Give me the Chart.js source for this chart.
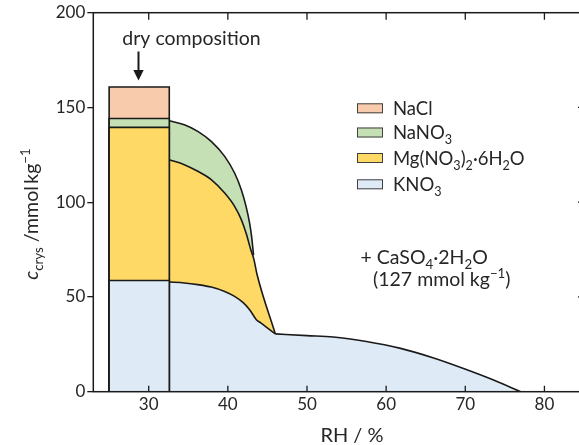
<!DOCTYPE html>
<html><head><meta charset="utf-8">
<script src="https://cdn.jsdelivr.net/npm/chart.js@4.4.1/dist/chart.umd.min.js"></script>
<style>html,body{margin:0;padding:0;overflow:hidden;background:#fff}#wrap{width:585px;height:445px}</style>
</head><body><div id="wrap"><canvas id="c" width="585" height="445"></canvas></div>
<script>
// ---- data ----
const xTicks = [30, 40, 50, 60, 70, 80];
const yTicks = [0, 50, 100, 150, 200];

// dry composition bar: RH range and cumulative tops (KNO3, Mg(NO3)2·6H2O, NaNO3, NaCl)
const dryRange = [25, 32.6];
const dryTops = [58.7, 139.5, 144.2, 160.8];

// NaNO3 upper boundary
const rhNaNO3 = [32.6, 34.5, 36.2, 37.9, 39.6, 40.85, 41.7, 42.3, 42.75, 43.0, 43.25];
const cNaNO3  = [143.0, 140.9, 137.4, 132.1, 124.2, 115.4, 106.6, 97.8, 89.0, 82.0, 72.0];

// Mg(NO3)2·6H2O upper boundary
const rhMg = [32.6, 34.5, 36.2, 37.9, 39.6, 40.85, 41.7, 42.3, 42.9, 43.3, 43.7, 46.0];
const cMg  = [122.4, 119.8, 116.3, 111.9, 104.8, 97.8, 90.8, 83.7, 74.9, 69.7, 61.7, 30.5];

// KNO3 upper boundary (up to the corner at 46 % RH, then the tail)
const rhKNO3 = [32.6, 34.5, 36.2, 37.9, 39.6, 40.85, 41.9, 42.75, 43.6, 44.2, 46.0];
const cKNO3  = [57.9, 57.4, 56.5, 55.2, 52.9, 50.3, 47.1, 43.3, 38.0, 36.2, 30.5];
const rhKNO3Tail = [46.0, 50, 53.3, 57.5, 61.7, 66.0, 70.2, 73.5, 77.0];
const cKNO3Tail  = [30.5, 29.6, 28.9, 26.5, 23.0, 17.8, 11.6, 6.3, 0];

// ---- styles ----
const COL = { NaCl: '#F8CBAD', NaNO3: '#C5E0B4', Mg: '#FFD966', KNO3: '#DEEBF7' };
const INK = '#1a1a1a';
const TXT = '#262626';
const FONT = 'Lato';

function curve(xs, ys, color, smooth, noBorder) {
  return {
    data: xs.map((x, i) => ({ x: x, y: ys[i] })),
    borderColor: noBorder ? 'rgba(0,0,0,0)' : INK, borderWidth: noBorder ? 0 : 1.6,
    backgroundColor: color, fill: 'origin',
    pointRadius: 0, pointHoverRadius: 0, tension: 0,
    cubicInterpolationMode: smooth ? 'monotone' : 'default'
  };
}
function rect(top, color) {
  return curve([dryRange[0], dryRange[0], dryRange[1], dryRange[1]], [0, top, top, 0], color, false);
}

// index 0 is drawn last (on top)
const datasets = [
  rect(dryTops[0], COL.KNO3),
  rect(dryTops[1], COL.Mg),
  rect(dryTops[2], COL.NaNO3),
  rect(dryTops[3], COL.NaCl),
  curve(rhKNO3Tail, cKNO3Tail, COL.KNO3, true),
  curve(rhKNO3, cKNO3, COL.KNO3, true),
  curve(rhKNO3.concat(rhKNO3Tail.slice(1)), cKNO3.concat(cKNO3Tail.slice(1)), COL.KNO3, false, true),
  curve(rhMg, cMg, COL.Mg, true),
  curve(rhNaNO3, cNaNO3, COL.NaNO3, true)
];

function rich(ctx, parts, x, y, size, align) {
  const fontFor = k => (k === 'i' ? 'italic ' : '') + ((k === 's' || k === 'p') ? size * 0.68 : size) + 'px ' + FONT;
  let total = 0;
  parts.forEach(([t, k]) => { ctx.font = fontFor(k); total += ctx.measureText(t).width; });
  let cx = align === 'center' ? x - total / 2 : x;
  parts.forEach(([t, k]) => {
    ctx.font = fontFor(k);
    const dy = k === 's' ? size * 0.28 : (k === 'p' ? -size * 0.4 : 0);
    ctx.fillText(t, cx, y + dy);
    cx += ctx.measureText(t).width;
  });
}

const decor = {
  id: 'decor',
  afterDraw(chart) {
    const ctx = chart.ctx, a = chart.chartArea, xs = chart.scales.x, ys = chart.scales.y;
    ctx.save();
    // frame
    ctx.strokeStyle = INK; ctx.lineWidth = 1.5;
    ctx.strokeRect(a.left, a.top, a.right - a.left, a.bottom - a.top);
    // inward ticks
    ctx.lineWidth = 1.3;
    ctx.beginPath();
    xTicks.forEach(v => {
      const px = xs.getPixelForValue(v);
      ctx.moveTo(px, a.bottom); ctx.lineTo(px, a.bottom - 6);
      ctx.moveTo(px, a.top); ctx.lineTo(px, a.top + 7);
    });
    yTicks.slice(1, -1).forEach(v => {
      const py = ys.getPixelForValue(v);
      ctx.moveTo(a.right, py); ctx.lineTo(a.right - 6, py);
    });
    ctx.stroke();

    ctx.fillStyle = TXT;
    ctx.textBaseline = 'alphabetic';
    // axis titles
    rich(ctx, [['RH / %', 'n']], 352, 441.5, 20, 'center');
    ctx.save();
    ctx.translate(37.5, 214);
    ctx.rotate(-Math.PI / 2);
    rich(ctx, [['c', 'i'], ['crys', 's'], [' /mmol\u2009kg', 'n'], ['\u22121', 'p']], 0, 0, 19.5, 'center');
    ctx.restore();

    // annotation: dry composition + arrow
    rich(ctx, [['dry composition', 'n']], 191.5, 45, 19.5, 'center');
    ctx.strokeStyle = INK; ctx.lineWidth = 2;
    ctx.beginPath(); ctx.moveTo(138.5, 51.5); ctx.lineTo(138.5, 71); ctx.stroke();
    ctx.fillStyle = INK;
    ctx.beginPath(); ctx.moveTo(133.3, 70); ctx.lineTo(143.7, 70); ctx.lineTo(138.5, 80.5); ctx.closePath(); ctx.fill();

    // legend
    const items = [
      { c: COL.NaCl, y: 108.3, t: [['NaCl', 'n']] },
      { c: COL.NaNO3, y: 132.5, t: [['NaNO', 'n'], ['3', 's']] },
      { c: COL.Mg, y: 158, t: [['Mg(NO', 'n'], ['3', 's'], [')', 'n'], ['2', 's'], ['\u00b76H', 'n'], ['2', 's'], ['O', 'n']] },
      { c: COL.KNO3, y: 184.3, t: [['KNO', 'n'], ['3', 's']] }
    ];
    items.forEach(it => {
      ctx.fillStyle = it.c;
      ctx.fillRect(357, it.y - 5, 26, 10);
      ctx.strokeStyle = '#404040'; ctx.lineWidth = 1;
      ctx.strokeRect(357.5, it.y - 4.5, 25, 9);
      ctx.fillStyle = TXT;
      rich(ctx, it.t, 393, it.y + 6.8, 18.5, 'left');
    });

    // CaSO4 note
    rich(ctx, [['+ CaSO', 'n'], ['4', 's'], ['\u00b72H', 'n'], ['2', 's'], ['O', 'n']], 360.5, 263.5, 19.5, 'left');
    rich(ctx, [['(127 mmol kg', 'n'], ['\u22121', 'p'], [')', 'n']], 373, 285.5, 19.5, 'left');
    ctx.restore();
  }
};

new Chart(document.getElementById('c'), {
  type: 'line',
  data: { datasets: datasets },
  plugins: [decor],
  options: {
    responsive: false, animation: false, events: [],
    layout: { padding: { left: 0, top: 12.7, right: 1, bottom: 0 } },
    plugins: { legend: { display: false }, tooltip: { enabled: false }, filler: { propagate: false } },
    scales: {
      x: {
        type: 'linear', min: 23, max: 85,
        afterBuildTicks: s => { s.ticks = xTicks.map(v => ({ value: v })); },
        afterFit: s => { s.height = 53.3; },
        grid: { display: false, drawTicks: false },
        border: { display: false },
        ticks: { color: TXT, font: { family: FONT, size: 17 }, padding: 3, maxRotation: 0, autoSkip: false }
      },
      y: {
        type: 'linear', min: 0, max: 200,
        afterBuildTicks: s => { s.ticks = yTicks.map(v => ({ value: v })); },
        afterFit: s => { s.width = 93.3; },
        grid: { display: true, drawOnChartArea: false, drawTicks: true, tickLength: 6, color: INK, lineWidth: 1.3 },
        border: { display: false },
        ticks: { color: TXT, font: { family: FONT, size: 17 }, padding: 2 }
      }
    }
  }
});
</script></body></html>
